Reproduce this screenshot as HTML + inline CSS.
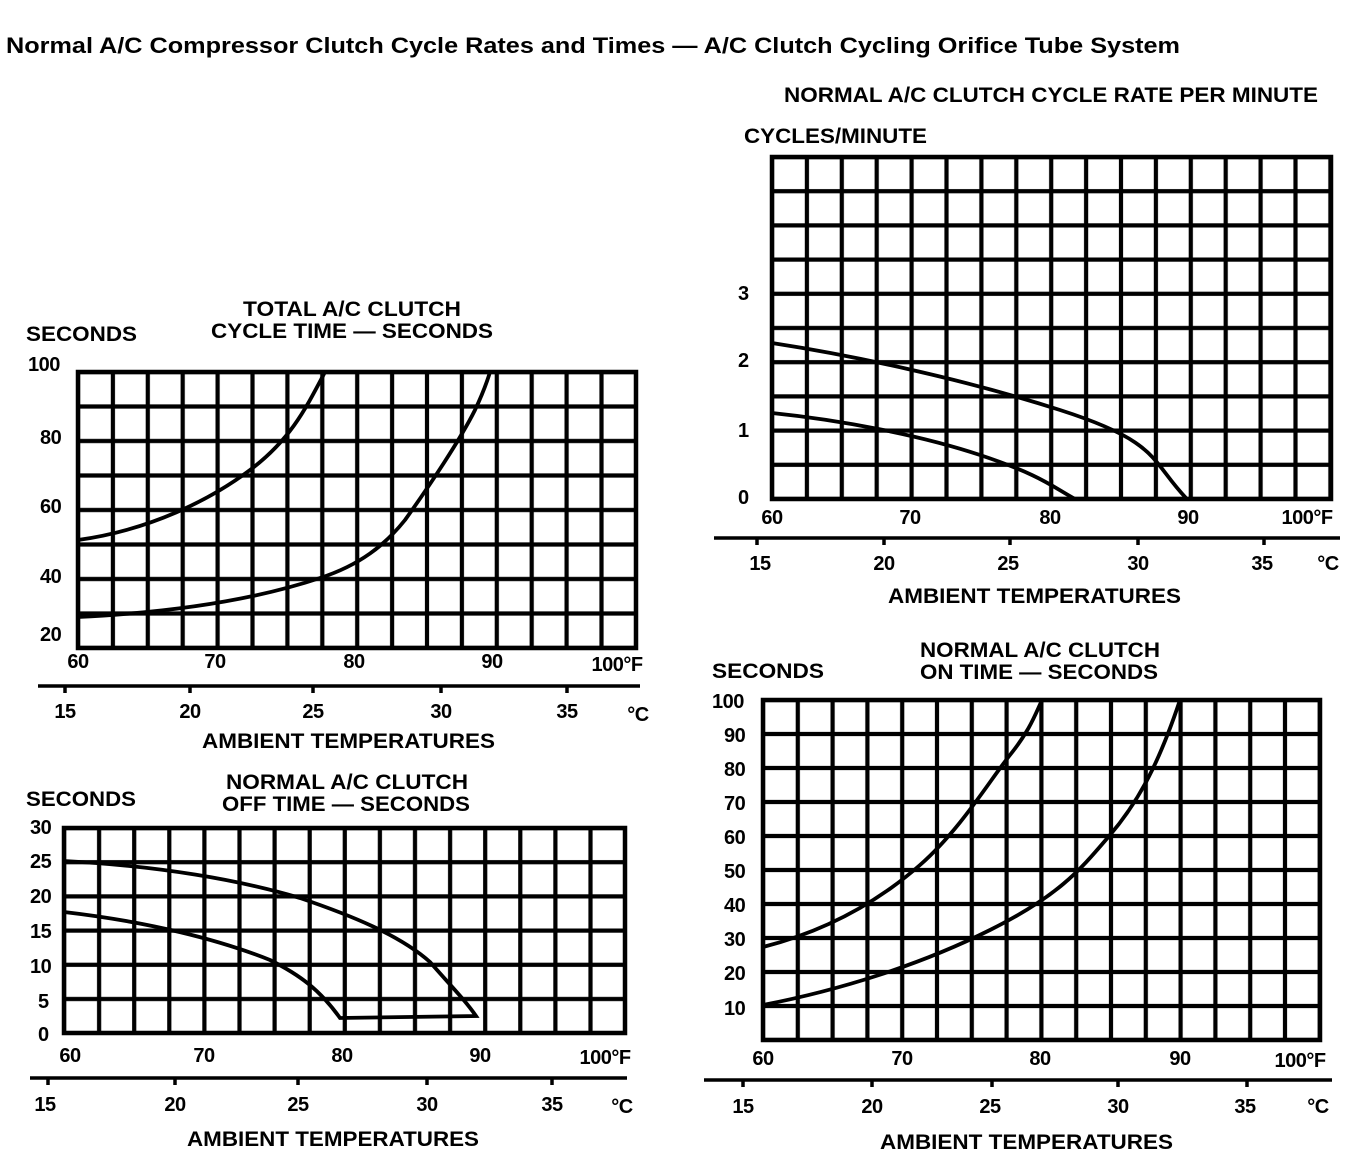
<!DOCTYPE html>
<html><head><meta charset="utf-8"><style>
html,body{margin:0;padding:0;background:#fff}
svg{display:block}
text{font-family:"Liberation Sans",Arial,sans-serif;font-weight:bold;fill:#000}
.t{font-size:21px}
.l{font-size:20px;letter-spacing:-0.5px}
.g{stroke:#000;stroke-width:4.5;fill:none}
.c{stroke:#000;stroke-width:3.8;fill:none}
</style></head><body>
<svg width="1360" height="1166" viewBox="0 0 1360 1166" xmlns="http://www.w3.org/2000/svg">
<defs>
<pattern id="p1" x="60.55" y="354.75" width="34.9" height="34.5" patternUnits="userSpaceOnUse"><path d="M0 17.25H34.9M17.45 0V34.5" stroke="#000" stroke-width="4.2"/></pattern>
<pattern id="p2" x="754.55" y="139.9" width="34.9" height="34.2" patternUnits="userSpaceOnUse"><path d="M0 17.1H34.9M17.45 0V34.2" stroke="#000" stroke-width="4.2"/></pattern>
<pattern id="p3" x="46.45" y="810.9" width="35.1" height="34.2" patternUnits="userSpaceOnUse"><path d="M0 17.1H35.1M17.55 0V34.2" stroke="#000" stroke-width="4.2"/></pattern>
<pattern id="p4" x="745.6" y="683" width="34.8" height="34" patternUnits="userSpaceOnUse"><path d="M0 17H34.8M17.4 0V34" stroke="#000" stroke-width="4.2"/></pattern>
</defs>
<text x="6" y="53" style="font-size:22px" textLength="1174" lengthAdjust="spacingAndGlyphs">Normal A/C Compressor Clutch Cycle Rates and Times — A/C Clutch Cycling Orifice Tube System</text>

<!-- Chart 1 -->
<text x="243" y="316" class="t" textLength="218" lengthAdjust="spacingAndGlyphs">TOTAL A/C CLUTCH</text>
<text x="211" y="338" class="t" textLength="282" lengthAdjust="spacingAndGlyphs">CYCLE TIME — SECONDS</text>
<text x="26" y="341" class="t" textLength="111" lengthAdjust="spacingAndGlyphs">SECONDS</text>
<rect x="78" y="372" width="558" height="276" fill="url(#p1)"/>
<rect x="78" y="372" width="558" height="276" class="g"/>
<g class="l"><text x="28" y="371">100</text><text x="40" y="444">80</text><text x="40" y="513">60</text><text x="40" y="583">40</text><text x="40" y="641">20</text></g>
<path class="c" d="M78 540 C150 530 210 500 250 470 S305 410 325 372"/>
<path class="c" d="M78 617 C180 612 260 598 320 578 C360 565 385 545 405 520 C430 485 460 440 475 410 C483 393 487 382 490 372"/>
<g class="l" text-anchor="middle"><text x="78" y="668">60</text><text x="215" y="668">70</text><text x="354" y="668">80</text><text x="492" y="668">90</text><text x="617" y="671">100°F</text></g>
<path d="M38 686H640M65 686v7M190 686v7M313 686v7M441 686v7M567 686v7" stroke="#000" stroke-width="3.5"/>
<g class="l" text-anchor="middle"><text x="65" y="718">15</text><text x="190" y="718">20</text><text x="313" y="718">25</text><text x="441" y="718">30</text><text x="567" y="718">35</text><text x="638" y="721">°C</text></g>
<text x="202" y="748" class="t" textLength="293" lengthAdjust="spacingAndGlyphs">AMBIENT TEMPERATURES</text>

<!-- Chart 2 -->
<text x="784" y="102" class="t" textLength="534" lengthAdjust="spacingAndGlyphs">NORMAL A/C CLUTCH CYCLE RATE PER MINUTE</text>
<text x="744" y="143" class="t" textLength="183" lengthAdjust="spacingAndGlyphs">CYCLES/MINUTE</text>
<rect x="772" y="157" width="559" height="342" fill="url(#p2)"/>
<rect x="772" y="157" width="559" height="342" class="g"/>
<g class="l"><text x="738" y="300">3</text><text x="738" y="367">2</text><text x="738" y="437">1</text><text x="738" y="504">0</text></g>
<path class="c" d="M772 343 C850 355 960 378 1060 410 S1150 460 1186 498"/>
<path class="c" d="M772 413 C840 420 920 435 980 455 S1050 485 1075 499"/>
<g class="l" text-anchor="middle"><text x="772" y="524">60</text><text x="910" y="524">70</text><text x="1050" y="524">80</text><text x="1188" y="524">90</text><text x="1307" y="524">100°F</text></g>
<path d="M714 538H1340M757 538v7M884 538v7M1010 538v7M1138 538v7M1264 538v7" stroke="#000" stroke-width="3.5"/>
<g class="l" text-anchor="middle"><text x="760" y="570">15</text><text x="884" y="570">20</text><text x="1008" y="570">25</text><text x="1138" y="570">30</text><text x="1262" y="570">35</text><text x="1328" y="570">°C</text></g>
<text x="888" y="603" class="t" textLength="293" lengthAdjust="spacingAndGlyphs">AMBIENT TEMPERATURES</text>

<!-- Chart 3 -->
<text x="226" y="789" class="t" textLength="242" lengthAdjust="spacingAndGlyphs">NORMAL A/C CLUTCH</text>
<text x="222" y="811" class="t" textLength="248" lengthAdjust="spacingAndGlyphs">OFF TIME — SECONDS</text>
<text x="26" y="806" class="t" textLength="110" lengthAdjust="spacingAndGlyphs">SECONDS</text>
<rect x="64" y="828" width="561" height="205" fill="url(#p3)"/>
<rect x="64" y="828" width="561" height="205" class="g"/>
<g class="l"><text x="30" y="834">30</text><text x="30" y="868">25</text><text x="30" y="903">20</text><text x="30" y="938">15</text><text x="30" y="973">10</text><text x="38" y="1008">5</text><text x="38" y="1041">0</text></g>
<path class="c" d="M64 861 C160 866 240 880 300 898 C350 915 400 935 430 962 C450 985 465 1000 476 1016 L340 1018 C320 990 300 975 270 960 C220 940 150 922 64 912"/>
<g class="l" text-anchor="middle"><text x="70" y="1062">60</text><text x="204" y="1062">70</text><text x="342" y="1062">80</text><text x="480" y="1062">90</text><text x="605" y="1064">100°F</text></g>
<path d="M30 1078H627M48 1078v7M175 1078v7M298 1078v7M427 1078v7M552 1078v7" stroke="#000" stroke-width="3.5"/>
<g class="l" text-anchor="middle"><text x="45" y="1111">15</text><text x="175" y="1111">20</text><text x="298" y="1111">25</text><text x="427" y="1111">30</text><text x="552" y="1111">35</text><text x="622" y="1113">°C</text></g>
<text x="187" y="1146" class="t" textLength="292" lengthAdjust="spacingAndGlyphs">AMBIENT TEMPERATURES</text>

<!-- Chart 4 -->
<text x="920" y="657" class="t" textLength="240" lengthAdjust="spacingAndGlyphs">NORMAL A/C CLUTCH</text>
<text x="920" y="679" class="t" textLength="238" lengthAdjust="spacingAndGlyphs">ON TIME — SECONDS</text>
<text x="712" y="678" class="t" textLength="112" lengthAdjust="spacingAndGlyphs">SECONDS</text>
<rect x="763" y="700" width="557" height="340" fill="url(#p4)"/>
<rect x="763" y="700" width="557" height="340" class="g"/>
<g class="l"><text x="712" y="708">100</text><text x="724" y="742">90</text><text x="724" y="776">80</text><text x="724" y="810">70</text><text x="724" y="844">60</text><text x="724" y="878">50</text><text x="724" y="912">40</text><text x="724" y="946">30</text><text x="724" y="980">20</text><text x="724" y="1015">10</text></g>
<path class="c" d="M763 947 C830 930 880 900 920 865 S990 780 1010 755 S1035 715 1042 700"/>
<path class="c" d="M763 1005 C840 990 920 965 990 930 S1080 870 1110 835 S1160 760 1180 700"/>
<g class="l" text-anchor="middle"><text x="763" y="1065">60</text><text x="902" y="1065">70</text><text x="1040" y="1065">80</text><text x="1180" y="1065">90</text><text x="1300" y="1067">100°F</text></g>
<path d="M704 1080H1332M743 1080v7M872 1080v7M992 1080v7M1118 1080v7M1247 1080v7" stroke="#000" stroke-width="3.5"/>
<g class="l" text-anchor="middle"><text x="743" y="1113">15</text><text x="872" y="1113">20</text><text x="990" y="1113">25</text><text x="1118" y="1113">30</text><text x="1245" y="1113">35</text><text x="1318" y="1113">°C</text></g>
<text x="880" y="1149" class="t" textLength="293" lengthAdjust="spacingAndGlyphs">AMBIENT TEMPERATURES</text>
</svg>
</body></html>
